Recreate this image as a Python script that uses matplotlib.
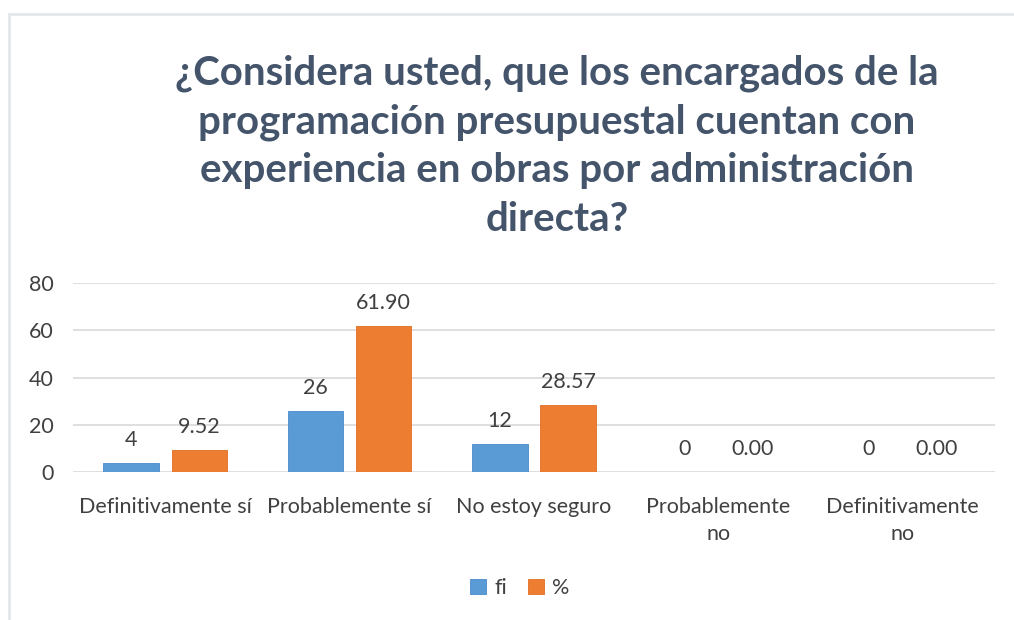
import matplotlib.pyplot as plt
import numpy as np
from matplotlib.patches import Rectangle

categories = ["Definitivamente sí", "Probablemente sí", "No estoy seguro",
              "Probablemente\nno", "Definitivamente\nno"]
fi = [4, 26, 12, 0, 0]
pct = [9.52, 61.90, 28.57, 0.00, 0.00]
yticks = [0, 20, 40, 60, 80]
title = ("¿Considera usted, que los encargados de la\nprogramación presupuestal cuentan con\n"
         "experiencia en obras por administración\ndirecta?")

plt.rcParams['font.family'] = ['Lato', 'DejaVu Sans']
W, H = 1014, 620
fig = plt.figure(figsize=(W / 100, H / 100), dpi=100)
fig.patch.set_facecolor('white')

# outer chart border
fig.add_artist(Rectangle((9 / W, -0.1), 1.2, 1 - 14 / H + 0.1, transform=fig.transFigure,
                         fill=False, edgecolor='#E3E6EC', linewidth=2))

ax = fig.add_axes([73 / W, 1 - 472 / H, (995 - 73) / W, (472 - 283) / H])
x = np.arange(len(categories))
bw = 0.30
off = 0.185
b1 = ax.bar(x - off, fi, bw, color='#5B9BD5', edgecolor='#4A8ACB', linewidth=0.6, label='fi', zorder=3)
b2 = ax.bar(x + off, pct, bw, color='#ED7D31', edgecolor='#E06E22', linewidth=0.6, label='%', zorder=3)

tc = '#404040'
fs = 15.5
for xi, v in zip(x, fi):
    ax.text(xi - off, v + 5.5, f"{v}", ha='center', va='bottom', fontsize=fs, color=tc)
for xi, v in zip(x, pct):
    ax.text(xi + off, v + 5.5, f"{v:.2f}", ha='center', va='bottom', fontsize=fs, color=tc)

ax.set_xlim(-0.5, len(categories) - 0.5)
ax.set_ylim(0, 80)
ax.set_yticks(yticks)
ax.set_yticklabels([str(t) for t in yticks], fontsize=fs, color=tc)
ax.set_xticks(x)
ax.set_xticklabels(categories, fontsize=fs, color=tc, linespacing=1.45)
ax.tick_params(axis='both', length=0)
ax.tick_params(axis='y', pad=14)
ax.tick_params(axis='x', pad=18)
ax.grid(axis='y', color='#D9D9D9', linewidth=1.2, zorder=0)
for s in ax.spines.values():
    s.set_visible(False)

fig.text(557 / W, 1 - 146 / H, title, ha='center', va='center', fontsize=29,
         fontweight='bold', color='#44546A', linespacing=1.38)

leg = fig.legend(handles=[b1, b2], labels=['fi', '%'], loc='center', bbox_to_anchor=(520 / W, 1 - 588 / H),
                 ncol=2, frameon=False, fontsize=fs, handlelength=0.7, handleheight=0.7,
                 handletextpad=0.4, columnspacing=1.0)
for t in leg.get_texts():
    t.set_color(tc)

fig.savefig('out.png', dpi=100, facecolor='white')
